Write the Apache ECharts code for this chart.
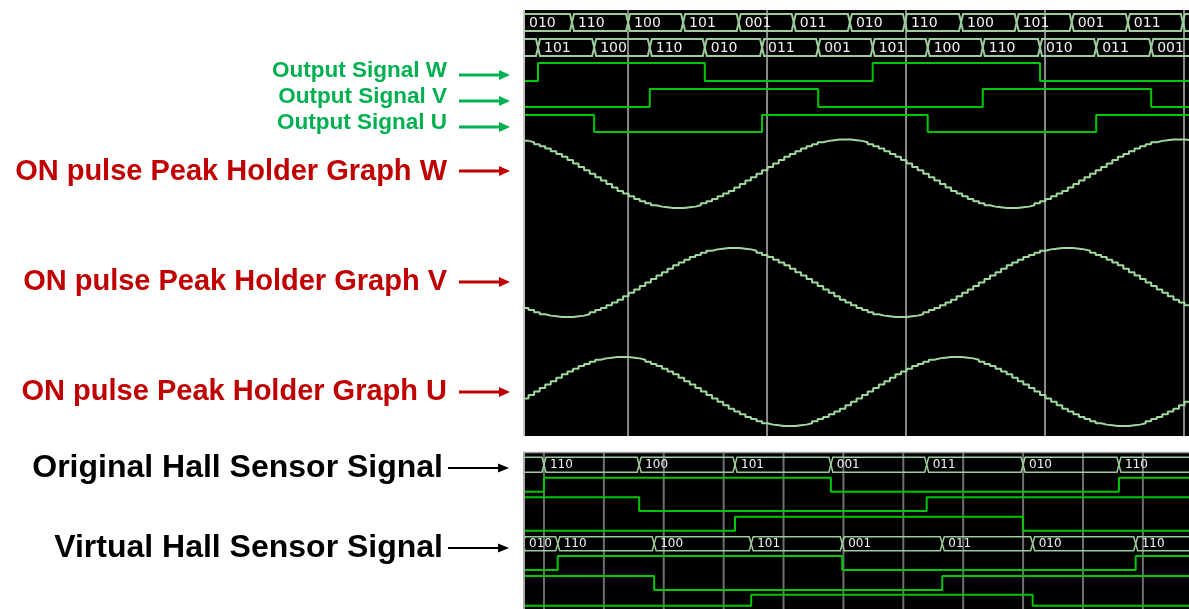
<!DOCTYPE html>
<html>
<head>
<meta charset="utf-8">
<title>Hall sensor waveforms</title>
<script src="https://cdn.jsdelivr.net/npm/echarts@6/dist/echarts.min.js"></script>
<style>
  html, body { margin: 0; padding: 0; background: #ffffff; }
  #chart { width: 1189px; height: 609px; }
</style>
</head>
<body>
<div id="chart"></div>
<script>
// ---------- time axes (sample units) ----------
const topTimeRange = [0, 119.8];
const bottomTimeRange = [0, 111.2];
const topCursorTimes = [18.9, 43.9, 68.9, 93.9, 118.9];
const bottomCursorTimes = [3.5, 13.5, 23.5, 33.5, 43.5, 53.5, 63.5, 73.5, 83.5, 93.5, 103.5];

// ---------- hall-state buses: segment start times and state codes ----------
const stateBusATimes = [-1.2, 8.8, 18.9, 28.8, 38.8, 48.7, 58.8, 68.7, 78.8, 88.8, 98.7, 108.8, 118.7];
const stateBusACodes = ['010', '110', '100', '101', '001', '011', '010', '110', '100', '101', '001', '011', '010'];
const stateBusBTimes = [-7.3, 2.7, 12.8, 22.8, 32.7, 43.0, 53.1, 62.9, 72.8, 82.7, 93.0, 103.1, 113.0];
const stateBusBCodes = ['001', '101', '100', '110', '010', '011', '001', '101', '100', '110', '010', '011', '001'];

// ---------- output signals: [time, level] ----------
const outputW = [[0, 0], [2.7, 1], [32.7, 0], [62.9, 1], [93.0, 0]];
const outputV = [[0, 0], [22.8, 1], [53.1, 0], [82.7, 1], [113.0, 0]];
const outputU = [[0, 1], [12.8, 0], [43.0, 1], [72.8, 0], [103.1, 1]];

// ---------- ON pulse peak holder values, one per sample ----------
const peakW = [98, 96, 93, 90, 87, 83, 79, 75, 70, 65, 60, 55, 50, 45, 40, 35, 30, 25, 21, 17,
  13, 10, 7, 4, 2, 1, 0, 0, 0, 1, 2, 4, 7, 10, 13, 17, 21, 25, 30, 35,
  40, 45, 50, 55, 60, 65, 70, 75, 79, 83, 87, 90, 93, 96, 98, 99, 100, 100, 100, 99,
  98, 96, 93, 90, 87, 83, 79, 75, 70, 65, 60, 55, 50, 45, 40, 35, 30, 25, 21, 17,
  13, 10, 7, 4, 2, 1, 0, 0, 0, 1, 2, 4, 7, 10, 13, 17, 21, 25, 30, 35,
  40, 45, 50, 55, 60, 65, 70, 75, 79, 83, 87, 90, 93, 96, 98, 99, 100, 100, 100, 99];
const peakV = [13, 10, 7, 4, 2, 1, 0, 0, 0, 1, 2, 4, 7, 10, 13, 17, 21, 25, 30, 35,
  40, 45, 50, 55, 60, 65, 70, 75, 79, 83, 87, 90, 93, 96, 98, 99, 100, 100, 100, 99,
  98, 96, 93, 90, 87, 83, 79, 75, 70, 65, 60, 55, 50, 45, 40, 35, 30, 25, 21, 17,
  13, 10, 7, 4, 2, 1, 0, 0, 0, 1, 2, 4, 7, 10, 13, 17, 21, 25, 30, 35,
  40, 45, 50, 55, 60, 65, 70, 75, 79, 83, 87, 90, 93, 96, 98, 99, 100, 100, 100, 99,
  98, 96, 93, 90, 87, 83, 79, 75, 70, 65, 60, 55, 50, 45, 40, 35, 30, 25, 21, 17];
const peakU = [40, 45, 50, 55, 60, 65, 70, 75, 79, 83, 87, 90, 93, 96, 98, 99, 100, 100, 100, 99,
  98, 96, 93, 90, 87, 83, 79, 75, 70, 65, 60, 55, 50, 45, 40, 35, 30, 25, 21, 17,
  13, 10, 7, 4, 2, 1, 0, 0, 0, 1, 2, 4, 7, 10, 13, 17, 21, 25, 30, 35,
  40, 45, 50, 55, 60, 65, 70, 75, 79, 83, 87, 90, 93, 96, 98, 99, 100, 100, 100, 99,
  98, 96, 93, 90, 87, 83, 79, 75, 70, 65, 60, 55, 50, 45, 40, 35, 30, 25, 21, 17,
  13, 10, 7, 4, 2, 1, 0, 0, 0, 1, 2, 4, 7, 10, 13, 17, 21, 25, 30, 35];

// ---------- original / virtual hall sensor captures ----------
const originalBusTimes = [-12.5, 3.5, 19.4, 35.4, 51.4, 67.4, 83.5, 99.5];
const originalBusCodes = ['010', '110', '100', '101', '001', '011', '010', '110'];
const originalW = [[0, 0], [3.5, 1], [51.4, 0], [99.5, 1]];
const originalV = [[0, 1], [19.4, 0], [67.4, 1]];
const originalU = [[0, 0], [35.4, 1], [83.5, 0]];

const virtualBusTimes = [0, 5.8, 21.9, 38.1, 53.3, 70.0, 85.1, 102.3];
const virtualBusCodes = ['010', '110', '100', '101', '001', '011', '010', '110'];
const virtualW = [[0, 0], [5.8, 1], [53.3, 0], [102.3, 1]];
const virtualV = [[0, 1], [21.9, 0], [70.0, 1]];
const virtualU = [[0, 0], [38.1, 1], [85.1, 0]];

// ---------- layout ----------
const PANEL_LEFT = 523, PANEL_WIDTH = 666, LANE_PAD = 4;
const COLORS = {
  digital: '#00c800',
  analog: '#a0d8a0',
  bus: '#9ccc9c',
  busText: '#f2f2f2',
  cursorTop: '#8a8a8a',
  cursorBottom: '#707070'
};

const grid = [], xAxis = [], yAxis = [], series = [];

function addGrid(top, height, xr, yr) {
  grid.push({ left: PANEL_LEFT, width: PANEL_WIDTH, top: top, height: height, show: false });
  const i = grid.length - 1;
  xAxis.push({ type: 'value', gridIndex: i, min: xr[0], max: xr[1], show: false });
  yAxis.push({ type: 'value', gridIndex: i, min: yr[0], max: yr[1], show: false });
  return i;
}

// a lane: pixel row hi carries vmax, pixel row lo carries vmin
function addLane(hi, lo, xr, vmin, vmax) {
  const k = (vmax - vmin) / (lo - hi);
  return addGrid(hi - LANE_PAD, (lo - hi) + 2 * LANE_PAD, xr, [vmin - LANE_PAD * k, vmax + LANE_PAD * k]);
}

function addPanel(top, height, xr, cursorTimes, cursorColor) {
  const i = addGrid(top, height, xr, [0, 1]);
  grid[i].show = true;
  grid[i].backgroundColor = '#000000';
  grid[i].borderWidth = 0;
  series.push({
    type: 'custom', xAxisIndex: i, yAxisIndex: i, z: 1, silent: true,
    data: cursorTimes.map(t => [t, 0]),
    renderItem: (params, api) => {
      const x = api.coord([api.value(0), 0])[0];
      const cs = params.coordSys;
      return { type: 'line', shape: { x1: x, y1: cs.y, x2: x, y2: cs.y + cs.height },
        style: { stroke: cursorColor, lineWidth: 2 } };
    }
  });
}

function addBus(hi, lo, xr, times, codes, fontSize, lineWidth) {
  const i = addLane(hi, lo, xr, 0, 1);
  const segs = times.map((t, k) => [t, k + 1 < times.length ? times[k + 1] : t + 20]);
  series.push({
    type: 'custom', xAxisIndex: i, yAxisIndex: i, z: 3, clip: true, silent: true,
    data: segs,
    renderItem: (params, api) => {
      const cs = params.coordSys;
      const x0 = api.coord([api.value(0), 1])[0];
      const x1 = api.coord([api.value(1), 1])[0];
      const yTop = api.coord([api.value(0), 1])[1];
      const yBot = api.coord([api.value(0), 0])[1];
      const yMid = (yTop + yBot) / 2, d = 2;
      const children = [{
        type: 'polygon',
        shape: { points: [[x0, yMid], [x0 + d, yTop], [x1 - d, yTop], [x1, yMid], [x1 - d, yBot], [x0 + d, yBot]] },
        style: { fill: null, stroke: COLORS.bus, lineWidth: lineWidth }
      }];
      const visStart = Math.max(x0, cs.x);
      if (x1 - visStart >= 28) {
        children.push({
          type: 'text', x: visStart + 6, y: yMid + 0.5,
          style: { text: codes[params.dataIndex], fill: COLORS.busText,
            font: fontSize + 'px "DejaVu Sans"', align: 'left', verticalAlign: 'middle' }
        });
      }
      return { type: 'group', children: children };
    }
  });
}

function addStep(hi, lo, xr, points, color, width) {
  const i = addLane(hi, lo, xr, 0, 1);
  const last = points[points.length - 1];
  series.push({
    type: 'line', xAxisIndex: i, yAxisIndex: i, z: 3, step: 'end', symbol: 'none', silent: true,
    lineStyle: { color: color, width: width },
    data: points.concat([[xr[1], last[1]]])
  });
}

function addAnalog(hi, lo, xr, values) {
  const i = addLane(hi, lo, xr, 0, 100);
  const pts = values.map((v, k) => [k, v]);
  pts.push([values.length, values[values.length - 1]]);
  series.push({
    type: 'line', xAxisIndex: i, yAxisIndex: i, z: 3, step: 'end', symbol: 'none', silent: true,
    lineStyle: { color: COLORS.analog, width: 2 },
    data: pts
  });
}

// upper capture
addPanel(10, 426, topTimeRange, topCursorTimes, COLORS.cursorTop);
addBus(14, 31, topTimeRange, stateBusATimes, stateBusACodes, 14, 2);
addBus(39, 56, topTimeRange, stateBusBTimes, stateBusBCodes, 14, 2);
addStep(63, 81, topTimeRange, outputW, COLORS.digital, 2);
addStep(89, 107, topTimeRange, outputV, COLORS.digital, 2);
addStep(115, 132, topTimeRange, outputU, COLORS.digital, 2);
addAnalog(139.5, 208, topTimeRange, peakW);
addAnalog(248, 317, topTimeRange, peakV);
addAnalog(357, 426, topTimeRange, peakU);

// lower capture
addPanel(452, 157, bottomTimeRange, bottomCursorTimes, COLORS.cursorBottom);
addBus(457.3, 472.3, bottomTimeRange, originalBusTimes, originalBusCodes, 12, 1.5);
addStep(477.7, 491.7, bottomTimeRange, originalW, COLORS.digital, 2);
addStep(497.3, 511, bottomTimeRange, originalV, COLORS.digital, 2);
addStep(516.7, 530.7, bottomTimeRange, originalU, COLORS.digital, 2);
addBus(536.7, 550.7, bottomTimeRange, virtualBusTimes, virtualBusCodes, 12, 1.5);
addStep(556, 570, bottomTimeRange, virtualW, COLORS.digital, 2);
addStep(576, 590, bottomTimeRange, virtualV, COLORS.digital, 2);
addStep(595.7, 609.7, bottomTimeRange, virtualU, COLORS.digital, 2);

// ---------- trace captions with pointer arrows ----------
const captions = [
  { text: 'Output Signal W', y: 71, arrowY: 75, color: '#00b050', size: 22.5, right: 447, x0: 459, x1: 510, w: 3 },
  { text: 'Output Signal V', y: 97, arrowY: 101, color: '#00b050', size: 22.5, right: 447, x0: 459, x1: 510, w: 3 },
  { text: 'Output Signal U', y: 123, arrowY: 127, color: '#00b050', size: 22.5, right: 447, x0: 459, x1: 510, w: 3 },
  { text: 'ON pulse Peak Holder Graph W', y: 172, arrowY: 171, color: '#c00000', size: 29, right: 447, x0: 459, x1: 510, w: 3 },
  { text: 'ON pulse Peak Holder Graph V', y: 282, arrowY: 282, color: '#c00000', size: 29, right: 447, x0: 459, x1: 510, w: 3 },
  { text: 'ON pulse Peak Holder Graph U', y: 392, arrowY: 392, color: '#c00000', size: 29, right: 447, x0: 459, x1: 510, w: 3 },
  { text: 'Original Hall Sensor Signal', y: 468, arrowY: 468, color: '#000000', size: 32, right: 443, x0: 448, x1: 509, w: 2 },
  { text: 'Virtual Hall Sensor Signal', y: 548, arrowY: 548, color: '#000000', size: 32, right: 443, x0: 448, x1: 509, w: 2 }
];

const graphic = [];
captions.forEach(c => {
  graphic.push({
    type: 'text', x: c.right, y: c.y, silent: true,
    style: { text: c.text, fill: c.color, font: 'bold ' + c.size + 'px "Liberation Sans", Arial, sans-serif',
      align: 'right', verticalAlign: 'middle' }
  });
  const head = 11, half = c.w === 3 ? 5 : 4.5;
  graphic.push({
    type: 'line', silent: true,
    shape: { x1: c.x0, y1: c.arrowY, x2: c.x1 - head + 1, y2: c.arrowY },
    style: { stroke: c.color, lineWidth: c.w }
  });
  graphic.push({
    type: 'polygon', silent: true,
    shape: { points: [[c.x1 - head, c.arrowY - half], [c.x1, c.arrowY], [c.x1 - head, c.arrowY + half]] },
    style: { fill: c.color }
  });
});

// panel frame edges
graphic.push({ type: 'line', silent: true, z: 10, shape: { x1: 524, y1: 10, x2: 524, y2: 436 }, style: { stroke: '#c4c4c4', lineWidth: 2 } });
graphic.push({ type: 'line', silent: true, z: 10, shape: { x1: 523, y1: 452.5, x2: 1189, y2: 452.5 }, style: { stroke: '#a0a0a0', lineWidth: 1.5 } });
graphic.push({ type: 'line', silent: true, z: 10, shape: { x1: 524, y1: 452, x2: 524, y2: 609 }, style: { stroke: '#a8a8a8', lineWidth: 2 } });

const chart = echarts.init(document.getElementById('chart'), null, { renderer: 'canvas' });
chart.setOption({
  animation: false,
  backgroundColor: '#ffffff',
  grid: grid,
  xAxis: xAxis,
  yAxis: yAxis,
  series: series,
  graphic: graphic
});
</script>
</body>
</html>
